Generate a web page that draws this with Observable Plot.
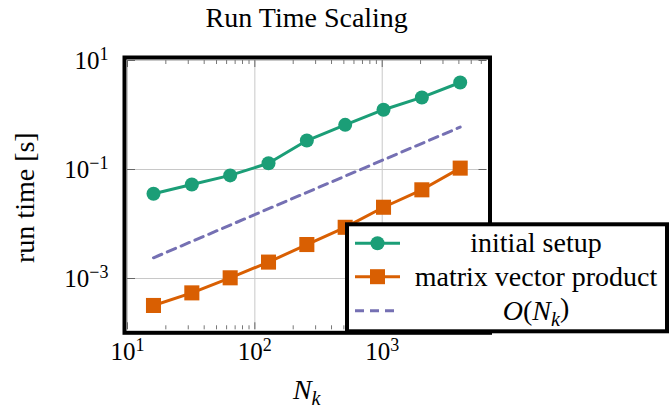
<!DOCTYPE html>
<html><head><meta charset="utf-8">
<script src="https://cdn.jsdelivr.net/npm/d3@7"></script>
<script src="https://cdn.jsdelivr.net/npm/@observablehq/plot@0.6"></script>
<style>body{margin:0;background:#fff} #chart{width:670px;height:411px}</style>
</head><body><div id="chart"></div>
<script>
// ---- data ----
const N = [16, 32, 64, 128, 256, 512, 1024, 2048, 4096];
const setupTime = [0.036, 0.053, 0.078, 0.13, 0.34, 0.66, 1.25, 2.1, 3.95];
const matvecTime = [3.2e-4, 5.45e-4, 1.03e-3, 2.0e-3, 4.2e-3, 8.7e-3, 0.0203, 0.0424, 0.106];
const refN = [16, 4096];
const refTime = [0.0024, 0.6];
const seriesNames = ["initial setup", "matrix vector product", "O(N_k)"];
const xMajor = [10, 100, 1000];
const yMajor = [10, 0.1, 0.001];
const title = "Run Time Scaling";
const yLabel = "run time [s]";

// ---- style ----
const FONT = "'Liberation Serif', 'Times New Roman', serif";
const FS = 28;      // title, labels, legend
const FT = 25;      // tick labels
const green = "#1b9e77", orange = "#d95f02", purple = "#7570b3";
const W = 670, H = 411, mL = 127, mR = 183.5, mT = 60, mB = 81.7;
const innerW = W - mL - mR, innerH = H - mT - mB;

const xMinor = [];
for (let e = 1; e <= 3; e++) for (let m = 2; m <= 9; m++) { const v = m * 10 ** e; if (v < 6650) xMinor.push(v); }

const setup = N.map((n, i) => ({n, t: setupTime[i]}));
const matvec = N.map((n, i) => ({n, t: matvecTime[i]}));
const ref = refN.map((n, i) => ({n, t: refTime[i]}));
const fmt = d => "10^" + String(Math.round(Math.log10(d))).replace("-", "\u2212");

const plot = Plot.plot({
  width: W, height: H,
  marginLeft: mL, marginRight: mR, marginTop: mT, marginBottom: mB,
  style: {fontFamily: FONT, fontSize: FT + "px", background: "white", overflow: "visible"},
  x: {type: "log", domain: [10, 6650]},
  y: {type: "log", domain: [1.145e-4, 10]},
  marks: [
    Plot.gridX(xMajor, {x: d => d, stroke: "#c8c8c8", strokeOpacity: 1, strokeWidth: 1}),
    Plot.gridY(yMajor, {y: d => d, stroke: "#c8c8c8", strokeOpacity: 1, strokeWidth: 1}),
    Plot.tickX(xMinor, {x: d => d, stroke: "#777", insetTop: innerH - 4}),
    Plot.tickX(xMinor, {x: d => d, stroke: "#777", insetBottom: innerH - 4}),
    Plot.tickX(xMajor, {x: d => d, stroke: "#666", insetTop: innerH - 7}),
    Plot.tickX(xMajor, {x: d => d, stroke: "#666", insetBottom: innerH - 7}),
    Plot.tickY(yMajor, {y: d => d, stroke: "#666", insetRight: innerW - 8}),
    Plot.tickY(yMajor, {y: d => d, stroke: "#666", insetLeft: innerW - 8}),
    Plot.axisX(xMajor, {tickSize: 0, tickPadding: 12, tickFormat: fmt, fontSize: FT, fontFamily: FONT, label: null}),
    Plot.axisY(yMajor, {tickSize: 0, tickPadding: 19, tickFormat: fmt, fontSize: FT, fontFamily: FONT, label: null}),
    Plot.line(ref, {x: "n", y: "t", stroke: purple, strokeWidth: 3, strokeDasharray: "9,6"}),
    Plot.line(matvec, {x: "n", y: "t", stroke: orange, strokeWidth: 3}),
    Plot.dot(matvec, {x: "n", y: "t", symbol: "square", r: 8.5, fill: orange, stroke: "none"}),
    Plot.line(setup, {x: "n", y: "t", stroke: green, strokeWidth: 3}),
    Plot.dot(setup, {x: "n", y: "t", r: 7, fill: green, stroke: "none"}),
    Plot.frame({stroke: "black", strokeWidth: 4, inset: -3})
  ]
});
document.getElementById("chart").appendChild(plot);

const svg = d3.select(plot);
// superscripts on tick labels
svg.selectAll("text").each(function () {
  const s = this.textContent;
  const m = s.match(/^(\d+)\^(.+)$/);
  if (!m) return;
  const t = d3.select(this);
  t.text(m[1]);
  t.append("tspan").attr("dy", "-0.45em").attr("font-size", "0.72em").text(m[2]);
});

const cx = (mL + W - mR) / 2;
// title
svg.append("text").attr("x", cx).attr("y", 27).attr("text-anchor", "middle")
  .attr("font-family", FONT).attr("font-size", FS).attr("fill", "black").text(title);
// y label
svg.append("text").attr("transform", `translate(24,${mT + innerH / 2 + 3}) rotate(-90)`)
  .attr("text-anchor", "middle").attr("dy", "0.35em")
  .attr("font-family", FONT).attr("font-size", FS).attr("fill", "black").text(yLabel);
// x label
const xl = svg.append("text").attr("x", cx).attr("y", 399).attr("text-anchor", "middle")
  .attr("font-family", FONT).attr("font-size", FS).attr("fill", "black");
xl.append("tspan").attr("font-style", "italic").text("N");
xl.append("tspan").attr("font-style", "italic").attr("font-size", "0.72em").attr("dy", "0.3em").text("k");

// legend
const lg = svg.append("g");
lg.append("rect").attr("x", 347).attr("y", 224.3).attr("width", 320).attr("height", 107)
  .attr("fill", "white").attr("stroke", "black").attr("stroke-width", 4);
const rows = [243.3, 276.7, 310.7];
const colors = [green, orange, purple];
rows.forEach((ry, i) => {
  lg.append("line").attr("x1", 355).attr("x2", 400).attr("y1", ry).attr("y2", ry)
    .attr("stroke", colors[i]).attr("stroke-width", 3)
    .attr("stroke-dasharray", i === 2 ? "9,6" : null);
  if (i === 0) lg.append("circle").attr("cx", 377.5).attr("cy", ry).attr("r", 7).attr("fill", green);
  if (i === 1) lg.append("rect").attr("x", 377.5 - 7.5).attr("y", ry - 7.5).attr("width", 15).attr("height", 15).attr("fill", orange);
  const t = lg.append("text").attr("x", 536).attr("y", ry).attr("dy", "0.32em").attr("text-anchor", "middle")
    .attr("font-family", FONT).attr("font-size", FS).attr("fill", "black");
  if (i < 2) t.text(seriesNames[i]);
  else {
    t.append("tspan").attr("font-style", "italic").text("O");
    t.append("tspan").text("(");
    t.append("tspan").attr("font-style", "italic").text("N");
    t.append("tspan").attr("font-style", "italic").attr("font-size", "0.72em").attr("dy", "0.3em").text("k");
    t.append("tspan").attr("dy", "-0.3em").text(")");
  }
});
</script></body></html>
